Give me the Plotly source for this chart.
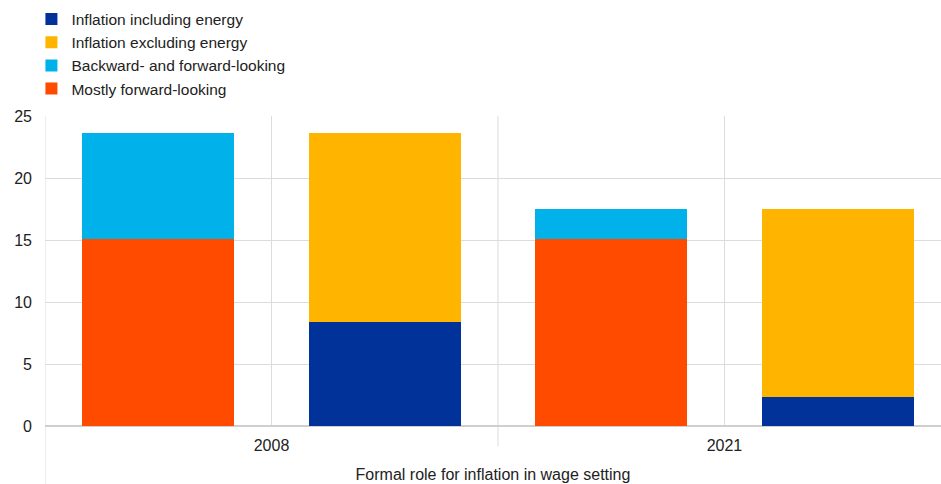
import plotly.graph_objects as go

positions = [0, 1, 2, 3]
group_labels = ["2008", "2021"]
group_positions = [0.5, 2.5]

incl_energy = [None, 8.4, None, 2.3]
excl_energy = [None, 15.2, None, 15.2]
backward_forward = [8.5, None, 2.4, None]
mostly_forward = [15.1, None, 15.1, None]

series = [
    ("Inflation including energy", incl_energy, "#003299", 1),
    ("Inflation excluding energy", excl_energy, "#FFB400", 2),
    ("Mostly forward-looking", mostly_forward, "#FF4B00", 4),
    ("Backward- and forward-looking", backward_forward, "#00B1EA", 3),
]

fig = go.Figure()
for name, vals, color, rank in series:
    fig.add_trace(go.Bar(
        x=positions, y=vals, name=name, marker_color=color,
        marker_line_width=0, width=0.67, legendrank=rank,
    ))

grid = "#dcdcdc"
txt = "#222222"
fig.update_layout(
    barmode="stack",
    width=941, height=484,
    margin=dict(l=45, r=0, t=116, b=57.5, autoexpand=False),
    plot_bgcolor="white", paper_bgcolor="white",
    font=dict(family="Liberation Sans, Arial, sans-serif", size=16, color=txt),
    showlegend=True,
    legend=dict(
        xref="container", yref="container",
        x=0.0334, y=1 - 2.5 / 484, xanchor="left", yanchor="top",
        font=dict(size=15.5, color=txt),
        traceorder="normal",
        tracegroupgap=0, itemwidth=30,
        bgcolor="rgba(0,0,0,0)",
    ),
    xaxis=dict(
        range=[-0.5, 3.456],
        tickvals=group_positions, ticktext=group_labels,
        showgrid=True, gridcolor=grid, gridwidth=1,
        ticks="", zeroline=False, showline=False,
        tickfont=dict(size=16, color=txt),
        ticklabelstandoff=8,
        title=dict(text="Formal role for inflation in wage setting",
                   font=dict(size=16, color=txt), standoff=15),
        automargin=False,
        fixedrange=True,
    ),
    yaxis=dict(
        range=[0, 25], dtick=5,
        showgrid=True, gridcolor=grid, gridwidth=1,
        zeroline=True, zerolinecolor="#cfcfcf", zerolinewidth=2,
        ticks="", showline=False,
        tickfont=dict(size=16, color=txt),
        ticklabelstandoff=12,
        automargin=False,
        fixedrange=True,
    ),
)

fig.add_shape(type="line", xref="x", yref="paper", x0=1.5, x1=1.5, y0=-0.066, y1=1,
              line=dict(color=grid, width=1), layer="below")
fig.add_shape(type="line", xref="x", yref="paper", x0=-0.5, x1=-0.5, y0=-0.19, y1=1,
              line=dict(color=grid, width=1), layer="below")

fig.write_html("out.html", config={"displayModeBar": False},
               post_script="document.body.style.margin='0';")
